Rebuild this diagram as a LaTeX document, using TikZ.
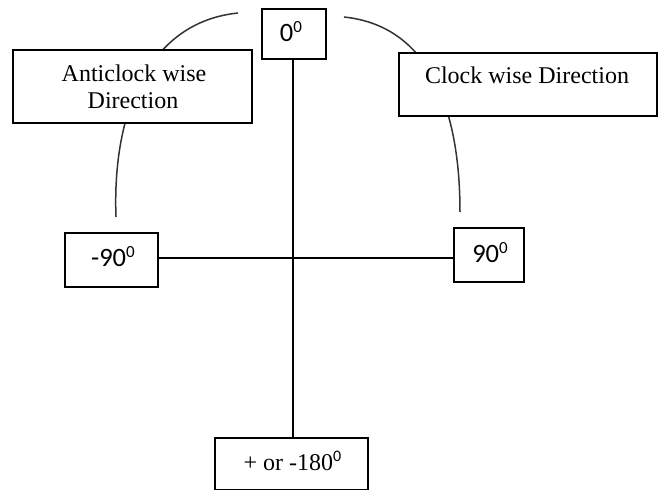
\documentclass[tikz,border=0pt]{standalone}
\usepackage{fontspec}
\setmainfont{Liberation Serif}
\newfontfamily\numfont{Carlito}
\newcommand\degsup[1][17]{\raisebox{9pt}{\numfont\fontsize{#1}{#1}\selectfont 0}}
\tikzset{
  box/.style={draw, fill=white, line width=1.6pt, inner sep=0pt},
  arcline/.style={line width=1.5pt, draw=black!80},
  axis/.style={line width=1.6pt},
  serlbl/.style={anchor=base, inner sep=0pt, font=\fontsize{24}{27}\selectfont},
  numlbl/.style={anchor=base, inner sep=0pt, font=\numfont\fontsize{26.5}{28}\selectfont},
}
\begin{document}
\begin{tikzpicture}[x=1pt,y=-1pt]
\clip (0,0) rectangle (662,490);
\fill[white] (0,0) rectangle (662,490);

% arc end points
\coordinate (la1) at (238,13);
\coordinate (la2) at (116,217);
\coordinate (ra1) at (344,17);
\coordinate (ra2) at (460,212);
\coordinate (o) at (293,258);

% arcs (behind the boxes)
\draw[arcline] (la1) .. controls (150,22) and (112,110) .. (la2);
\draw[arcline] (ra1) .. controls (430,26) and (460,110) .. (ra2);

% boxes
\node[box, minimum width=64pt, minimum height=50pt] (z) at (294,34) {};
\node[box, minimum width=239pt, minimum height=73pt] (a) at (132.5,86.5) {};
\node[box, minimum width=258pt, minimum height=63pt] (c) at (528,84.5) {};
\node[box, minimum width=93pt, minimum height=54pt] (m) at (111.5,260) {};
\node[box, minimum width=70pt, minimum height=54pt] (p) at (489,255) {};
\node[box, minimum width=153pt, minimum height=52pt] (b) at (291.5,464) {};

% axes
\draw[axis] (o |- z.south) -- (o |- b.north);
\draw[axis] (o -| m.east) -- (o -| p.west);

% texts
\node[numlbl] (tz) at (291,41) {0\degsup};
\node[serlbl] (ta1) at (134,81) {Anticlock wise};
\node[serlbl] (ta2) at (133,108) {Direction};
\node[serlbl] (tc) at (527,83) {Clock wise Direction};
\node[numlbl] (tm) at (113,266) {-90\degsup};
\node[numlbl] (tp) at (490,262) {90\degsup};
\node[serlbl] (tb) at (292.5,470) {+ or -180\degsup[16]};
\end{tikzpicture}
\end{document}
